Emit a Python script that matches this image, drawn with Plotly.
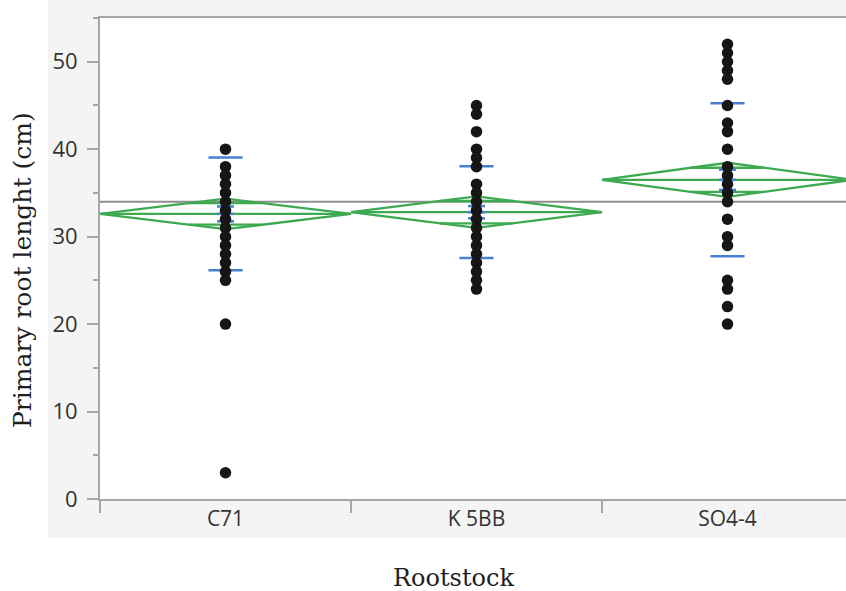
import plotly.graph_objects as go

# ---- data ----
categories = ["C71", "K 5BB", "SO4-4"]
c71_values = [40, 38, 37, 36, 35, 34, 33, 32, 31, 30, 29, 28, 27, 26, 25, 20, 3]
k5bb_values = [45, 44, 42, 40, 39, 38, 36, 35, 34, 33, 32, 31, 30, 29, 28, 27, 26, 25, 24]
so44_values = [52, 51, 50, 49, 48, 45, 43, 42, 40, 38, 37, 36, 35, 34, 32, 30, 29, 25, 24, 22, 20]
group_means = [32.6, 32.8, 36.5]
ci_half = [1.75, 1.8, 1.95]
group_sd = [6.45, 5.25, 8.75]
group_se = [0.85, 0.70, 1.16]
grand_mean = 34.0
y_tick_values = [0, 10, 20, 30, 40, 50]

groups = [c71_values, k5bb_values, so44_values]

GREEN = "#3daa52"
BLUE = "#4a7fd3"
GRAY_LINE = "#8e8e8e"
AXIS = "#a6a6a6"

PLOT_W = 752  # plot area extends slightly beyond the right page edge
CAT_W = 251

fig = go.Figure()

# grand mean line
fig.add_trace(go.Scatter(x=[-0.5, 2.6], y=[grand_mean, grand_mean], mode="lines",
                         line=dict(color=GRAY_LINE, width=2), hoverinfo="skip"))

# means diamonds + overlap marks
dx, dy = [], []
for i, (m, h) in enumerate(zip(group_means, ci_half)):
    dx += [i - 0.5, i, i + 0.5, i, i - 0.5, None]
    dy += [m, m + h, m, m - h, m, None]
    dx += [i - 0.5, i + 0.5, None]
    dy += [m, m, None]
    off = h / 2 ** 0.5
    w = 0.5 * (1 - 1 / 2 ** 0.5)
    for s in (1, -1):
        dx += [i - w, i + w, None]
        dy += [m + s * off, m + s * off, None]
fig.add_trace(go.Scatter(x=dx, y=dy, mode="lines", line=dict(color=GREEN, width=2.3),
                         hoverinfo="skip"))

# std dev lines and mean error bars (blue)
bx, by = [], []
for i, (m, sd, se) in enumerate(zip(group_means, group_sd, group_se)):
    for v in (m + sd, m - sd):
        bx += [i - 0.068, i + 0.068, None]
        by += [v, v, None]
    for v in (m + se, m, m - se):
        bx += [i - 0.034, i + 0.034, None]
        by += [v, v, None]
fig.add_trace(go.Scatter(x=bx, y=by, mode="lines", line=dict(color=BLUE, width=2.5),
                         hoverinfo="skip"))

# data points
for i, vals in enumerate(groups):
    fig.add_trace(go.Scatter(x=[i] * len(vals), y=vals, mode="markers",
                             marker=dict(color="#161616", size=11.5, line=dict(width=0)),
                             name=categories[i]))

shapes = [
    dict(type="rect", xref="paper", yref="paper", x0=-0.3, x1=(48 - 100) / PLOT_W,
         y0=-0.5, y1=1.5, fillcolor="white", line=dict(width=0), layer="below"),
    dict(type="rect", xref="paper", yref="paper", x0=-0.3, x1=1.3,
         y0=-0.5, y1=(499 - 538) / 481, fillcolor="white", line=dict(width=0), layer="below"),
]

fig.update_layout(
    width=852, height=591,
    margin=dict(l=100, r=0, t=18, b=92),
    paper_bgcolor="#f4f4f4",
    plot_bgcolor="white",
    showlegend=False,
    shapes=shapes,
    xaxis=dict(
        range=[-0.5, -0.5 + PLOT_W / CAT_W], tickmode="array", tickvals=[0, 1, 2],
        ticktext=categories, ticks="", showgrid=False, zeroline=False,
        showline=True, linecolor=AXIS, linewidth=2, mirror=True,
        tickfont=dict(family="Open Sans", size=21, color="#333333"),
        minor=dict(tickmode="array", tickvals=[-0.5, 0.5, 1.5, 2.5], ticks="outside",
                   ticklen=12, tickcolor=AXIS, tickwidth=2, showgrid=False),
        ticklabelstandoff=0,
    ),
    yaxis=dict(
        range=[0, 55], tickmode="array", tickvals=y_tick_values, ticks="outside",
        ticklen=11, tickcolor=AXIS, tickwidth=2, showgrid=False, zeroline=False,
        showline=True, linecolor=AXIS, linewidth=2,
        tickfont=dict(family="Open Sans", size=22, color="#333333"),
        minor=dict(dtick=5, ticks="outside", ticklen=5, tickcolor=AXIS, tickwidth=2,
                   showgrid=False),
        ticklabelstandoff=5,
    ),
    annotations=[
        dict(text="Rootstock", xref="paper", yref="paper",
             x=(453 - 100) / PLOT_W, y=(499 - 578) / 481, xanchor="center", yanchor="middle",
             showarrow=False, font=dict(family="DejaVu Serif", size=24, color="#1e1e1e")),
        dict(text="Primary root lenght (cm)", xref="paper", yref="paper",
             x=(22 - 100) / PLOT_W, y=(499 - 270) / 481, xanchor="center", yanchor="middle",
             textangle=-90, showarrow=False,
             font=dict(family="DejaVu Serif", size=25, color="#1e1e1e")),
    ],
)

fig.write_html("out.html", config={"displayModeBar": False},
               post_script="document.body.style.margin='0';document.body.style.overflow='hidden';")
